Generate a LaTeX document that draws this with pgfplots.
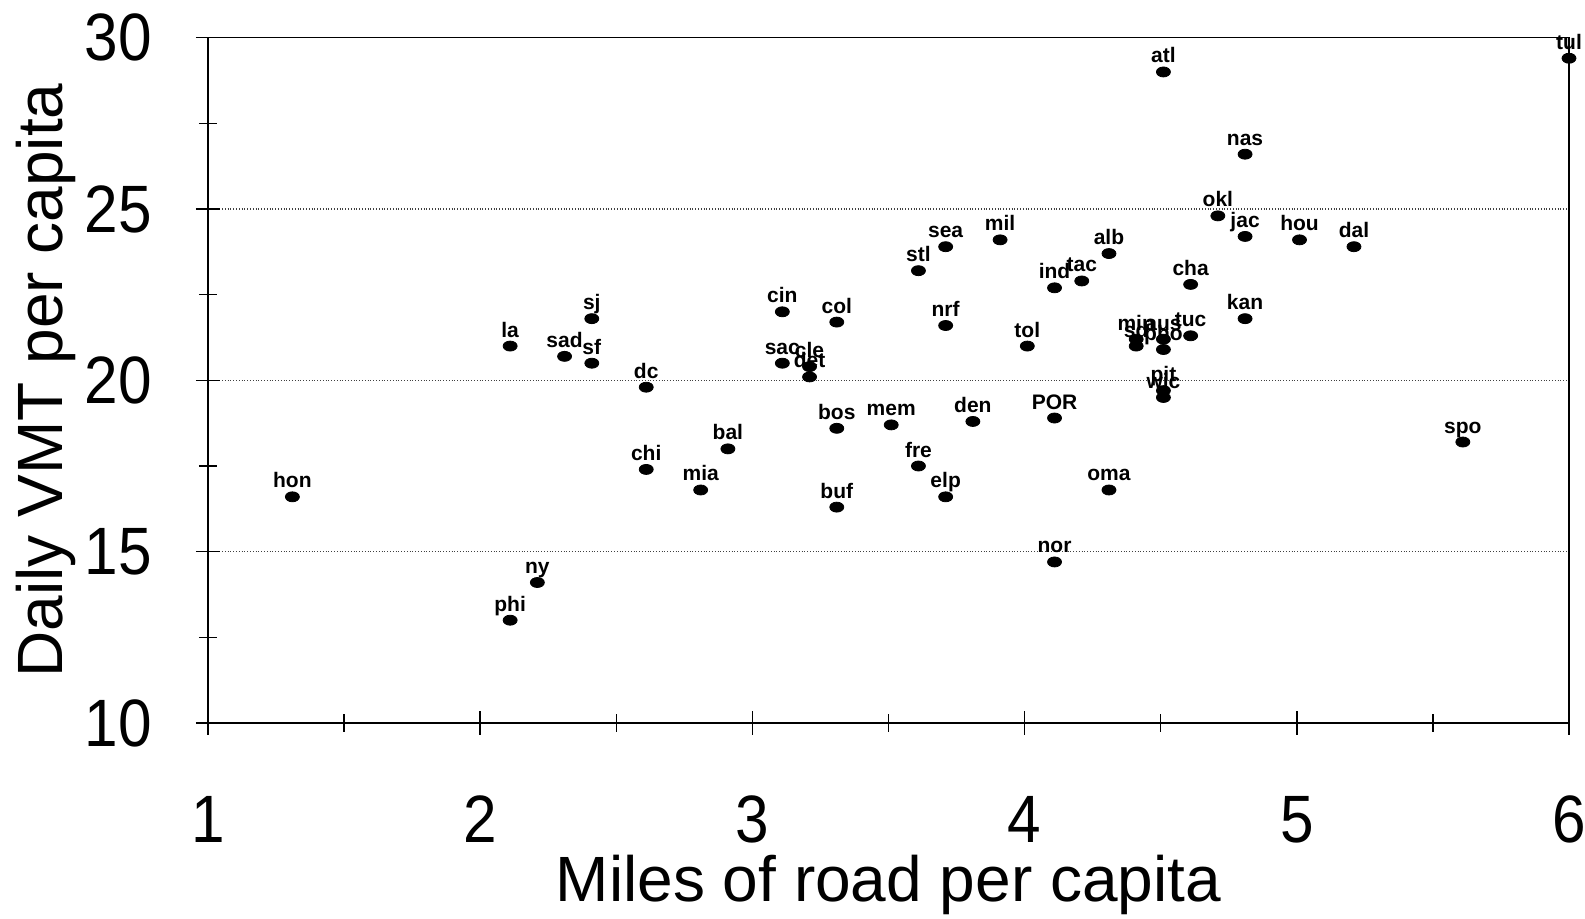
\documentclass[border=0pt]{standalone}
\usepackage{fontspec}
\setmainfont{Liberation Sans}
\usepackage{pgfplots}
\pgfplotsset{compat=1.18}
\usepackage{pgfplotstable}

% miles of road per capita, daily VMT per capita, city code
\pgfplotstableread{
x    y    name
1.31 16.6 hon
2.11 21.0 la
2.41 21.8 sj
2.31 20.7 sad
2.41 20.5 sf
2.61 19.8 dc
2.21 14.1 ny
2.11 13.0 phi
2.61 17.4 chi
2.81 16.8 mia
2.91 18.0 bal
3.11 22.0 cin
3.31 21.7 col
3.11 20.5 sac
3.21 20.4 cle
3.21 20.1 det
3.31 18.6 bos
3.31 16.3 buf
3.51 18.7 mem
3.61 17.5 fre
3.71 16.6 elp
3.61 23.2 stl
3.71 23.9 sea
3.91 24.1 mil
3.71 21.6 nrf
3.81 18.8 den
4.01 21.0 tol
4.11 18.9 POR
4.11 14.7 nor
4.11 22.7 ind
4.21 22.9 tac
4.31 23.7 alb
4.31 16.8 oma
4.51 29.0 atl
4.81 26.6 nas
4.71 24.8 okl
4.81 24.2 jac
5.01 24.1 hou
5.21 23.9 dal
4.61 22.8 cha
4.81 21.8 kan
4.61 21.3 tuc
4.41 21.2 min
4.41 21.0 sd
4.51 21.2 aus
4.51 20.9 pho
4.51 19.7 pit
4.51 19.5 wic
5.61 18.2 spo
6.00 29.4 tul
}\citydata

\begin{document}
\begin{tikzpicture}
\begin{axis}[
  scale only axis,
  width=680.5pt, height=342.65pt,
  xmin=1, xmax=6, ymin=10, ymax=30,
  clip=false,
  xtick={1,2,3,4,5,6}, ytick={10,15,20,25,30},
  minor xtick={1.5,2.5,3.5,4.5,5.5},
  minor ytick={12.5,17.5,22.5,27.5},
  xtick pos=bottom, ytick pos=left,
  tick align=center,
  major tick length=12pt, minor tick length=9pt,
  tick style={black, line width=0.7pt},
  axis line style={black, line width=0.8pt},
  ymajorgrids,
  grid style={densely dotted, black!75, line width=0.6pt},
  /pgf/number format/assume math mode=true,
  ticklabel style={font=\fontsize{33.5}{33.5}\selectfont, inner sep=0pt},
  xticklabel style={anchor=base, yshift=-54pt, xscale=0.9},
  yticklabel style={anchor=east, xshift=-22pt, xscale=0.9},
  xlabel={Miles of road per capita},
  ylabel={Daily VMT per capita},
  every axis x label/.style={at={(rel axis cs:0.5,0)}, anchor=base,
    yshift=-89.5pt, inner sep=0pt, font=\fontsize{32}{32}\selectfont},
  every axis y label/.style={at={([xshift=-72.5pt]rel axis cs:0,0.5)},
    rotate=90, anchor=base, inner sep=0pt,
    font=\fontsize{32}{32}\selectfont},
]
\addplot[
  only marks,
  mark=*,
  mark size=2.5pt,
  mark options={xscale=1.4, fill=black, draw=black},
  point meta=explicit symbolic,
  nodes near coords=\pgfplotspointmeta,
  every node near coord/.append style={
    font=\bfseries\fontsize{10.5}{10.5}\selectfont,
    anchor=base, inner sep=0pt, yshift=4.5pt},
] table[x=x, y=y, meta=name] {\citydata};
\coordinate (ll) at (rel axis cs:0,0);
\coordinate (ur) at (rel axis cs:1,1);
\end{axis}
\pgfresetboundingbox
\useasboundingbox ([shift={(-104pt,-98pt)}]ll) rectangle ([shift={(8pt,18.85pt)}]ur);
\end{tikzpicture}
\end{document}
